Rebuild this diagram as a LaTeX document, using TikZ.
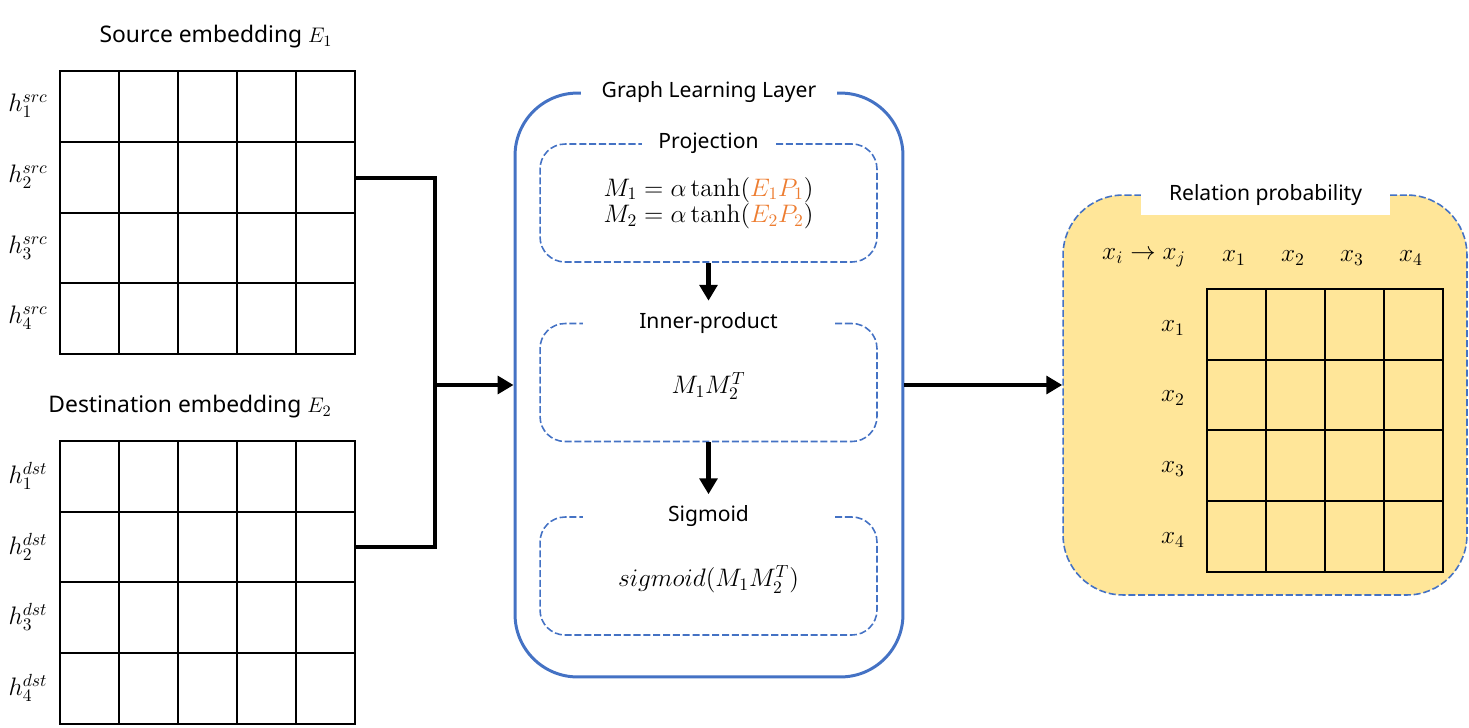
\documentclass[tikz,border=0pt]{standalone}
\usepackage{fontspec}
\newfontfamily\labelfont{Noto Sans}
\usetikzlibrary{arrows.meta,positioning,calc}
\definecolor{glblue}{HTML}{4472C4}
\definecolor{projorange}{HTML}{ED7D31}
\definecolor{relyellow}{HTML}{FFE699}

\begin{document}
\begin{tikzpicture}[x=0.02cm,y=-0.02cm,
  gridline/.style={line width=1.1pt},
  flow/.style={line width=2.8pt},
  flowarrow/.style={flow,-{Triangle[length=9pt,width=10pt]}},
  stagebox/.style={draw=glblue,dash pattern=on 4pt off 1.6pt,line width=0.9pt,rounded corners=0.5cm,minimum width=6.74cm,minimum height=2.36cm},
  gaptitle/.style={fill=white,font=\labelfont\fontsize{12}{14}\selectfont,inner ysep=1pt},
  caption/.style={font=\labelfont\fontsize{13}{15}\selectfont},
  rowlabel/.style={font=\fontsize{14.5}{16}\selectfont,inner sep=0pt},
  formula/.style={font=\fontsize{14.5}{18}\selectfont,align=center}]
\useasboundingbox (0,0) rectangle (1469,727);

% source embedding
\node[caption] (srccap) at (216,37) {Source embedding $E_1$};
\draw[gridline] (60,71) rectangle (355,354);
\foreach \x in {119,178,237,296} \draw[gridline] (\x,71) -- (\x,354);
\foreach \y in {142,213,283} \draw[gridline] (60,\y) -- (355,\y);
\foreach \i/\y in {1/106,2/177,3/248,4/318}
  \node[rowlabel] (hs\i) at (28,\y) {$h_{\i}^{src}$};

% destination embedding
\node[caption] (dstcap) at (190,407) {Destination embedding $E_2$};
\draw[gridline] (60,441) rectangle (355,724);
\foreach \x in {119,178,237,296} \draw[gridline] (\x,441) -- (\x,724);
\foreach \y in {512,582,653} \draw[gridline] (60,\y) -- (355,\y);
\foreach \i/\y in {1/476,2/547,3/617,4/688}
  \node[rowlabel] (hd\i) at (28,\y) {$h_{\i}^{dst}$};

\coordinate (srcout) at (355,178);
\coordinate (dstout) at (355,547);
\coordinate (join) at (435,385);

% graph learning layer
\node[draw=glblue,line width=1.7pt,rounded corners=1.25cm,minimum width=7.76cm,minimum height=11.68cm] (gll) at (709,385) {};
\node[gaptitle,inner xsep=0.42cm] (glltitle) at (gll.north) {Graph Learning Layer};

\node[stagebox] (proj) at (708.5,203) {};
\node[gaptitle,inner xsep=0.32cm] (projtitle) at (proj.north) {Projection};
\node[formula] (projeq) at (proj.center) {$M_1 = \alpha\tanh(\textcolor{projorange}{E_1P_1})$\\[-3pt]$M_2 = \alpha\tanh(\textcolor{projorange}{E_2P_2})$};

\node[stagebox] (inner) at (708.5,382.5) {};
\node[gaptitle,minimum width=5.04cm] (innertitle) at (inner.north) {Inner-product};
\node[formula] (innereq) at ([yshift=-2pt]inner.center) {$M_1M_2^T$};

\node[stagebox] (sig) at (708.5,576) {};
\node[gaptitle,minimum width=5.04cm] (sigtitle) at (sig.north) {Sigmoid};
\node[formula] (sigeq) at ([yshift=-2pt]sig.center) {$sigmoid(M_1M_2^T)$};

\draw[flowarrow] (proj.south) -- ([yshift=0.44cm]inner.north);
\draw[flowarrow] (inner.south) -- ([yshift=0.44cm]sig.north);

% relation probability
\node[draw=glblue,fill=relyellow,dash pattern=on 4pt off 1.6pt,line width=0.9pt,rounded corners=1.2cm,minimum width=8.08cm,minimum height=8cm] (rel) at (1265,395) {};
\node[gaptitle,minimum width=4.98cm,minimum height=0.8cm] (reltitle) at (1265.5,195) {Relation probability};
\draw[gridline] (1207,289) rectangle (1443,572);
\foreach \x in {1266,1325,1384} \draw[gridline] (\x,289) -- (\x,572);
\foreach \y in {360,430,501} \draw[gridline] (1207,\y) -- (1443,\y);
\node[rowlabel] (relhead) at (1144,258) {$x_i \rightarrow x_j$};
\foreach \i/\x in {1/1234,2/1293,3/1352,4/1411}
  \node[rowlabel] (col\i) at (\x,258) {$x_{\i}$};
\foreach \i/\y in {1/328,2/398,3/469,4/540}
  \node[rowlabel] (row\i) at (1173,\y) {$x_{\i}$};

% connectors
\draw[flow] (srcout) -| (join) |- (dstout);
\draw[flowarrow] (join) -- (gll.west);
\draw[flowarrow] (gll.east) -- (gll.east -| rel.west);
\end{tikzpicture}
\end{document}
